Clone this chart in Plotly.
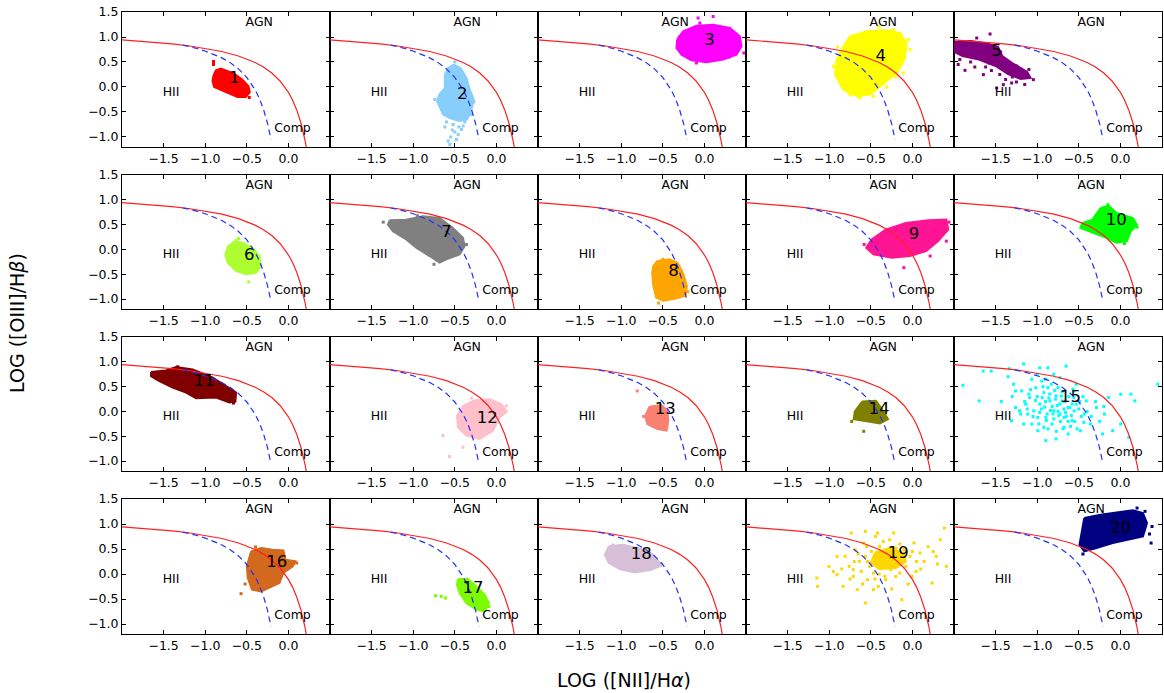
import plotly.graph_objects as go
from plotly.subplots import make_subplots

# ---------------- demarcation curves ----------------
kewley_x = [-2.0, -1.8, -1.6, -1.4, -1.2, -1.0, -0.8, -0.6, -0.5, -0.4, -0.3, -0.2,
            -0.1, -0.05, 0.0, 0.05, 0.1, 0.15, 0.175, 0.2, 0.22]
kewley_y = [0.943, 0.921, 0.895, 0.864, 0.825, 0.775, 0.710, 0.620, 0.561, 0.489, 0.398,
            0.280, 0.120, 0.017, -0.108, -0.262, -0.459, -0.716, -0.878, -1.069, -1.25]
kauff_x = [-1.27, -1.2, -1.1, -1.0, -0.9, -0.8, -0.7, -0.6, -0.5, -0.45, -0.4, -0.35,
           -0.3, -0.25, -0.23, -0.21]
kauff_y = [0.838, 0.812, 0.770, 0.719, 0.658, 0.582, 0.487, 0.362, 0.191, 0.080, -0.056,
           -0.225, -0.443, -0.733, -0.879, -1.046]

# ---------------- cluster colours and labels ----------------
cluster_colors = ["#FF0000", "#87CEFA", "#FF00FF", "#FFFF00", "#800080",
                  "#ADFF2F", "#808080", "#FFA500", "#FF1493", "#00FF00",
                  "#800000", "#FFC0CB", "#FA8072", "#808000", "#00FFFF",
                  "#D2691E", "#7CFC00", "#D8BFD8", "#FFD700", "#000080"]
label_text = [str(i) for i in range(1, 21)]
label_x = [-0.65, -0.41, 0.06, -0.38, -1.49, -0.47, -0.60, -0.37, 0.02, -0.05,
           -1.01, -0.11, -0.47, -0.40, -0.60, -0.14, -0.28, -0.76, -0.17, 0.00]
label_y = [0.17, -0.15, 0.93, 0.61, 0.71, -0.13, 0.33, -0.45, 0.30, 0.57,
           0.60, -0.15, 0.03, 0.03, 0.27, 0.23, -0.29, 0.39, 0.40, 0.90]

# ---------------- cluster outlines (dense cores) and loose points ----------------
c01_outline = [(-0.904, 0.213), (-0.872, 0.333), (-0.812, 0.367), (-0.732, 0.313), (-0.652, 0.267),
               (-0.552, 0.147), (-0.48, 0.013), (-0.464, -0.107), (-0.512, -0.2), (-0.612, -0.2),
               (-0.712, -0.133), (-0.812, -0.067), (-0.892, 0.0), (-0.912, 0.113)]
c01_points = [(-0.90, 0.51), (-0.90, 0.45), (-0.47, -0.21)]

c02_outline = [(-0.512, 0.447), (-0.432, 0.38), (-0.36, 0.18), (-0.32, -0.053), (-0.272, -0.253),
               (-0.30, -0.453), (-0.352, -0.653), (-0.45, -0.68), (-0.56, -0.62), (-0.64, -0.553),
               (-0.712, -0.287), (-0.688, -0.153), (-0.62, -0.02), (-0.62, 0.247), (-0.58, 0.38)]
c02_points = [(-0.52, -0.75), (-0.45, -0.80), (-0.50, -0.90), (-0.46, -0.95), (-0.55, -1.00),
              (-0.48, -1.05), (-0.56, -1.15), (-0.42, -0.85), (-0.38, -0.70), (-0.60, -0.70),
              (-0.66, -0.45), (-0.30, -0.55), (-0.27, -0.30), (-0.58, -1.08), (-0.53, -0.86),
              (-0.40, -0.78), (-0.62, -0.80), (-0.74, -0.25), (-0.50, 0.50)]

c03_outline = [(-0.328, 0.947), (-0.256, 1.113), (-0.096, 1.227), (0.105, 1.247), (0.306, 1.18),
               (0.426, 1.013), (0.446, 0.813), (0.386, 0.647), (0.225, 0.547), (0.025, 0.493),
               (-0.156, 0.533), (-0.276, 0.647), (-0.336, 0.78)]
c03_points = [(-0.055, 1.28), (0.105, 1.41), (-0.076, 1.38), (-0.096, 0.48), (0.474, 0.68),
              (0.30, 0.60), (-0.30, 1.00)]

c04_outline = [(-0.852, 0.747), (-0.751, 1.013), (-0.55, 1.113), (-0.31, 1.133), (-0.15, 1.08),
               (-0.07, 0.88), (-0.089, 0.58), (-0.17, 0.313), (-0.31, 0.113), (-0.51, -0.153),
               (-0.67, -0.187), (-0.83, -0.053), (-0.931, 0.247), (-0.911, 0.547)]
c04_points = [(-0.23, 1.147), (-0.029, 0.747), (-0.11, 0.28), (-0.47, -0.187), (-0.31, 0.0),
              (-0.95, 0.413), (-0.63, -0.22), (-0.05, 0.95), (-0.20, 0.20), (-0.40, 1.20),
              (-0.90, 0.80), (-0.75, -0.15)]

c05_outline = [(-1.99, 0.90), (-1.80, 0.92), (-1.60, 0.87), (-1.47, 0.80), (-1.42, 0.62),
               (-1.30, 0.48), (-1.12, 0.30), (-1.08, 0.18), (-1.20, 0.16), (-1.35, 0.26),
               (-1.50, 0.42), (-1.70, 0.55), (-1.90, 0.62), (-1.99, 0.70)]
c05_points = [(-1.567, 1.06), (-1.727, 0.98), (-1.868, 0.333), (-1.647, 0.247), (-1.487, -0.02),
              (-1.407, 0.047), (-1.046, 0.147), (-1.307, 0.08), (-1.95, 0.45), (-1.15, 0.05),
              (-1.93, 0.55), (-1.80, 0.50), (-1.62, 0.40), (-1.55, 0.33), (-1.45, 0.25),
              (-1.38, 0.15), (-1.25, 0.10), (-1.10, 0.35), (-1.40, 0.55), (-1.25, 0.42),
              (-1.58, 0.48), (-1.75, 0.40), (-1.30, 0.20), (-1.18, 0.22), (-1.44, 0.70)]

c06_outline = [(-0.649, 0.167), (-0.548, 0.133), (-0.428, 0.033), (-0.348, -0.133), (-0.328, -0.333),
               (-0.388, -0.467), (-0.508, -0.5), (-0.629, -0.433), (-0.729, -0.267), (-0.757, -0.1),
               (-0.729, 0.053)]
c06_points = [(-0.629, 0.18), (-0.476, -0.653), (-0.60, 0.22)]

c07_outline = [(-1.284, 0.587), (-1.084, 0.6), (-0.884, 0.667), (-0.683, 0.633), (-0.523, 0.433),
               (-0.402, 0.233), (-0.382, 0.067), (-0.442, -0.1), (-0.603, -0.2), (-0.683, -0.267),
               (-0.804, -0.133), (-0.964, 0.033), (-1.084, 0.2), (-1.244, 0.367), (-1.304, 0.5)]
c07_points = [(-1.36, 0.55), (-1.02, 0.15), (-0.75, -0.30), (-0.36, 0.10), (-0.95, 0.68)]

c08_outline = [(-0.565, -0.233), (-0.419, -0.2), (-0.322, -0.267), (-0.259, -0.467), (-0.21, -0.733),
               (-0.225, -0.933), (-0.346, -0.987), (-0.492, -1.033), (-0.58, -0.967), (-0.614, -0.733),
               (-0.628, -0.467), (-0.614, -0.333)]
c08_points = [(-0.551, -1.08), (-0.50, -0.20), (-0.20, -0.85)]

c09_outline = [(-0.492, 0.2), (-0.322, 0.4), (-0.079, 0.533), (0.189, 0.587), (0.408, 0.6),
               (0.432, 0.4), (0.31, 0.167), (0.164, -0.033), (-0.03, -0.133), (-0.249, -0.167),
               (-0.468, -0.1), (-0.555, 0.033)]
c09_points = [(-0.103, -0.367), (0.408, 0.167), (0.213, -0.133), (-0.58, 0.10), (0.44, 0.55)]

c10_outline = [(-0.239, 0.833), (-0.142, 0.88), (-0.045, 0.733), (0.15, 0.633), (0.198, 0.5),
               (0.126, 0.367), (0.077, 0.167), (-0.045, 0.133), (-0.166, 0.233), (-0.337, 0.333),
               (-0.482, 0.433), (-0.458, 0.533), (-0.337, 0.6)]
c10_points = [(-0.15, 0.90), (0.20, 0.45), (0.05, 0.12)]

c11_outline = [(-1.651, 0.793), (-1.471, 0.827), (-1.35, 0.893), (-1.15, 0.847), (-0.909, 0.68),
               (-0.749, 0.513), (-0.629, 0.38), (-0.637, 0.2), (-0.709, 0.18), (-0.869, 0.28),
               (-1.11, 0.267), (-1.23, 0.38), (-1.391, 0.48), (-1.551, 0.613), (-1.651, 0.713)]
c11_points = [(-1.33, 0.90), (-0.66, 0.17)]

c12_outline = [(-0.402, 0.113), (-0.262, 0.227), (-0.082, 0.247), (0.059, 0.147), (0.127, 0.0),
               (0.039, -0.12), (-0.041, -0.387), (-0.201, -0.553), (-0.362, -0.487), (-0.462, -0.32),
               (-0.474, -0.087)]
c12_points = [(-0.643, -0.487), (-0.563, -0.907), (-0.402, -0.72), (0.119, 0.113), (-0.30, 0.27)]

c13_outline = [(-0.662, 0.093), (-0.517, 0.127), (-0.444, 0.013), (-0.434, -0.187), (-0.453, -0.387),
               (-0.565, -0.353), (-0.687, -0.253), (-0.711, -0.087)]
c13_points = [(-0.808, 0.413), (-0.73, -0.10)]

c14_outline = [(-0.604, 0.2), (-0.439, 0.213), (-0.366, 0.047), (-0.293, -0.153), (-0.39, -0.24),
               (-0.56, -0.2), (-0.706, -0.153), (-0.692, 0.0)]
c14_points = [(-0.585, -0.40), (-0.73, -0.20)]

c15_outline = []
c15_points = [(-1.893, 0.527), (-1.698, 0.213), (-1.65, 0.813), (-1.553, 0.813), (-1.431, 0.2),
              (-1.334, 0.86), (-1.26, 0.413), (-1.212, 0.013), (-1.163, 0.96), (-1.163, -0.253),
              (-1.09, 0.28), (-1.066, 0.647), (-1.042, 0.013), (-1.017, 0.48), (-0.993, -0.387),
              (-0.969, 0.88), (-0.969, 0.147), (-0.92, 0.38), (-0.896, -0.12), (-0.896, -0.587),
              (-0.872, 0.88), (-0.847, 0.213), (-0.823, -0.253), (-0.799, 0.013), (-0.774, -0.553),
              (-0.75, 0.48), (-0.726, -0.053), (-0.701, 0.213), (-0.677, -0.32), (-0.653, 0.913),
              (-0.628, 0.08), (-0.58, -0.187), (-0.555, 0.413), (-0.531, 0.147), (-0.482, -0.387),
              (-0.434, -0.053), (-0.41, 0.213), (-0.361, -0.253), (-0.288, 0.08), (-0.215, -0.453),
              (-0.191, -0.053), (-0.142, 0.28), (-0.093, -0.387), (0.004, 0.347), (0.126, 0.347),
              (0.174, 0.213), (0.101, -0.52), (0.004, -0.253), (-1.066, -0.253), (-1.114, -0.053),
              (-1.26, 0.08), (-1.309, -0.187), (-1.187, 0.413), (-0.872, 0.48), (-0.726, 0.68),
              (-0.531, 0.547), (-0.92, -0.32), (-0.628, -0.453), (-1.139, 0.147), (-0.993, -0.12),
              (-0.774, 0.313), (-0.677, -0.12), (-0.555, 0.013), (-0.945, 0.613), (-1.285, 0.547),
              (0.45, 0.55), (-1.0, 0.3), (-0.95, 0.05), (-0.9, 0.2), (-0.88, -0.05), (-0.85, 0.35),
              (-0.82, 0.1), (-0.8, -0.15), (-0.78, 0.25), (-0.75, 0.0), (-0.72, -0.2), (-0.7, 0.4),
              (-0.68, 0.05), (-0.65, -0.1), (-0.62, 0.3), (-0.6, -0.3), (-0.58, 0.15), (-0.55, -0.2),
              (-0.5, 0.05), (-0.47, -0.1), (-0.45, 0.3), (-1.05, -0.1), (-1.1, 0.35), (-1.12, 0.05),
              (-1.15, 0.2), (-1.2, -0.05), (-0.98, -0.25), (-0.93, 0.5), (-0.87, -0.35), (-0.83, 0.55),
              (-0.77, -0.4), (-0.73, 0.15), (-0.67, 0.2), (-0.63, -0.2), (-0.57, 0.45), (-0.52, -0.35),
              (-0.4, 0.0), (-0.35, -0.1), (-0.3, 0.2), (-0.25, -0.2), (-0.2, 0.1), (-1.3, 0.3),
              (-1.35, 0.7), (-1.0, 0.75), (-0.9, 0.65), (-0.8, 0.75), (-1.02, 0.22), (-0.97, -0.02),
              (-0.91, 0.09), (-0.86, 0.27), (-0.81, -0.05), (-0.76, 0.12), (-0.71, 0.31), (-0.66, -0.02),
              (-0.61, 0.08), (-0.56, 0.28), (-0.49, 0.20), (-0.44, -0.22), (-1.08, 0.44), (-0.89, -0.18),
              (-0.79, 0.42), (-0.69, -0.35), (-0.59, -0.08), (-0.94, 0.28), (-0.84, 0.02), (-0.74, -0.08)]

c16_outline = [(-0.448, 0.453), (-0.328, 0.52), (-0.188, 0.487), (-0.06, 0.473), (-0.035, 0.287),
               (0.085, 0.253), (0.053, 0.153), (-0.06, 0.02), (-0.108, -0.18), (-0.228, -0.28),
               (-0.328, -0.347), (-0.437, -0.313), (-0.488, -0.08), (-0.5, 0.153)]
c16_points = [(-0.569, -0.393), (-0.396, 0.54), (0.10, 0.22), (-0.52, -0.20)]

c17_outline = [(-0.462, -0.1), (-0.342, -0.1), (-0.262, -0.213), (-0.141, -0.413), (-0.089, -0.58),
               (-0.141, -0.747), (-0.242, -0.713), (-0.362, -0.58), (-0.442, -0.38), (-0.474, -0.213)]
c17_points = [(-0.731, -0.433), (-0.663, -0.447), (-0.611, -0.48), (-0.09, -0.65)]

c18_outline = [(-1.149, 0.553), (-0.979, 0.587), (-0.76, 0.5), (-0.614, 0.387), (-0.517, 0.167),
               (-0.638, 0.087), (-0.833, 0.033), (-1.003, 0.087), (-1.149, 0.22), (-1.197, 0.387)]
c18_points = [(-1.10, 0.58), (-0.52, 0.20)]

c19_outline = [(-0.45, 0.43), (-0.28, 0.52), (-0.10, 0.42), (-0.08, 0.25), (-0.20, 0.12),
               (-0.40, 0.10), (-0.50, 0.22)]
c19_points = [(-1.149, -0.08), (-1.139, -0.247), (-1.003, 0.153), (-0.906, -0.013), (-0.833, -0.247),
              (-0.808, 0.353), (-0.76, 0.153), (-0.735, 0.82), (-0.711, -0.047), (-0.687, 0.487),
              (-0.662, -0.313), (-0.638, 0.253), (-0.614, 0.053), (-0.589, 0.62), (-0.565, -0.58),
              (-0.565, 0.353), (-0.541, -0.113), (-0.516, 0.153), (-0.492, 0.453), (-0.468, 0.02),
              (-0.444, 0.753), (-0.419, 0.287), (-0.41, -0.247), (-0.395, 0.553), (-0.371, 0.12),
              (-0.346, 0.353), (-0.332, -0.047), (-0.322, 0.453), (-0.298, 0.253), (-0.273, 0.687),
              (-0.259, 0.087), (-0.249, 0.387), (-0.225, 0.22), (-0.2, 0.52), (-0.176, 0.32),
              (-0.152, 0.02), (-0.127, -0.513), (-0.103, 0.487), (-0.079, 0.153), (-0.03, 0.353),
              (0.018, 0.62), (0.043, 0.053), (0.091, 0.42), (0.14, 0.253), (0.189, 0.547),
              (0.237, -0.18), (0.286, 0.353), (0.335, 0.687), (0.384, 0.92), (0.408, 0.153),
              (-0.565, 0.853), (-0.419, 0.82), (-0.906, 0.353), (-0.711, 0.087), (-0.468, -0.313),
              (-0.322, -0.113), (-0.225, 0.82), (-0.006, -0.047), (-0.541, 0.253), (-0.60, -0.20),
              (-0.70, 0.25), (-0.85, 0.10), (-0.95, 0.05), (-0.65, 0.40), (-0.55, 0.55), (-0.35, 0.65),
              (-0.15, 0.60), (0.05, 0.25), (0.25, 0.45), (0.10, 0.10), (-0.05, -0.20), (-0.25, -0.30),
              (-0.45, -0.10), (-0.75, -0.10), (-0.40, 0.00), (-0.20, -0.05), (0.00, 0.45), (0.30, 0.20)]

c20_outline = [(-0.434, 1.12), (-0.239, 1.187), (-0.045, 1.233), (0.15, 1.273), (0.271, 1.22),
               (0.32, 1.02), (0.271, 0.753), (0.101, 0.687), (-0.093, 0.62), (-0.288, 0.52),
               (-0.434, 0.453), (-0.492, 0.587), (-0.458, 0.887)]
c20_points = [(0.369, 0.62), (0.296, 1.253), (0.20, 1.32), (0.38, 0.95), (0.35, 0.80), (-0.45, 0.40)]

outlines = [c01_outline, c02_outline, c03_outline, c04_outline, c05_outline,
            c06_outline, c07_outline, c08_outline, c09_outline, c10_outline,
            c11_outline, c12_outline, c13_outline, c14_outline, c15_outline,
            c16_outline, c17_outline, c18_outline, c19_outline, c20_outline]
loose = [c01_points, c02_points, c03_points, c04_points, c05_points,
         c06_points, c07_points, c08_points, c09_points, c10_points,
         c11_points, c12_points, c13_points, c14_points, c15_points,
         c16_points, c17_points, c18_points, c19_points, c20_points]

# region labels
region_text = ["AGN", "HII", "Comp"]
region_x = [-0.35, -1.41, 0.05]
region_y = [1.29, -0.11, -0.84]

x_ticks = [-1.5, -1.0, -0.5, 0.0]
y_ticks = [-1.0, -0.5, 0.0, 0.5, 1.0, 1.5]

FONT = "DejaVu Sans"

fig = make_subplots(rows=4, cols=5, horizontal_spacing=0, vertical_spacing=0.04)

for i in range(20):
    r, c = i // 5 + 1, i % 5 + 1
    col = cluster_colors[i]
    ol = outlines[i]
    if ol:
        fig.add_trace(go.Scatter(x=[p[0] for p in ol] + [ol[0][0]], y=[p[1] for p in ol] + [ol[0][1]],
                                 mode="lines", fill="toself", fillcolor=col,
                                 line=dict(color=col, width=2), hoverinfo="skip",
                                 showlegend=False), row=r, col=c)
    pts = loose[i]
    if pts:
        fig.add_trace(go.Scatter(x=[p[0] for p in pts], y=[p[1] for p in pts], mode="markers",
                                 marker=dict(color=col, size=3, symbol="square", line=dict(width=0)),
                                 showlegend=False, hoverinfo="skip"), row=r, col=c)
    fig.add_trace(go.Scatter(x=kewley_x, y=kewley_y, mode="lines",
                             line=dict(color="#FF2020", width=1.2), showlegend=False,
                             hoverinfo="skip"), row=r, col=c)
    fig.add_trace(go.Scatter(x=kauff_x, y=kauff_y, mode="lines",
                             line=dict(color="#2030FF", width=1.2, dash="6px,4px"),
                             showlegend=False, hoverinfo="skip"), row=r, col=c)
    fig.add_trace(go.Scatter(x=region_x, y=region_y, mode="text", text=region_text,
                             textfont=dict(family=FONT, size=12.5, color="black"),
                             showlegend=False, hoverinfo="skip"), row=r, col=c)
    fig.add_trace(go.Scatter(x=[label_x[i]], y=[label_y[i]], mode="text", text=[label_text[i]],
                             textfont=dict(family=FONT, size=16.5, color="black"),
                             showlegend=False, hoverinfo="skip"), row=r, col=c)

row_domains = [[0.783, 1.0], [0.5225, 0.738], [0.262, 0.4775], [0.0, 0.217]]
for i in range(20):
    r, c = i // 5, i % 5
    n = i + 1
    xa = "xaxis" if n == 1 else f"xaxis{n}"
    ya = "yaxis" if n == 1 else f"yaxis{n}"
    fig.layout[xa].update(domain=[c * 0.2, (c + 1) * 0.2], range=[-2.0, 0.5],
                          tickvals=x_ticks, ticktext=["\u22121.5", "\u22121.0", "\u22120.5", "0.0"],
                          ticks="inside", ticklen=4, tickcolor="black", showline=True,
                          linecolor="black", linewidth=1, mirror="ticks", showgrid=False,
                          zeroline=False, tickfont=dict(family=FONT, size=12.5, color="black"))
    fig.layout[ya].update(domain=row_domains[r], range=[-1.2, 1.5],
                          tickvals=y_ticks,
                          ticktext=["\u22121.0", "\u22120.5", "0.0", "0.5", "1.0", "1.5"],
                          ticks="inside", ticklen=4, tickcolor="black", showline=True,
                          linecolor="black", linewidth=1, mirror="ticks", showgrid=False,
                          zeroline=False, showticklabels=(c == 0),
                          tickfont=dict(family=FONT, size=12.5, color="black"))

fig.add_annotation(text="LOG ([NII]/H<i>\u03b1</i>)", xref="paper", yref="paper",
                   x=0.483, y=-0.074, showarrow=False, xanchor="center", yanchor="middle",
                   font=dict(family=FONT, size=19, color="black"))
fig.add_annotation(text="LOG ([OIII]/H<i>\u03b2</i>)", xref="paper", yref="paper",
                   x=-0.101, y=0.5, showarrow=False, xanchor="center", yanchor="middle",
                   textangle=-90, font=dict(family=FONT, size=19, color="black"))

fig.update_layout(width=1164, height=693, margin=dict(l=122, r=2, t=12, b=59),
                  paper_bgcolor="white", plot_bgcolor="white", showlegend=False)

fig.write_html("out.html")
